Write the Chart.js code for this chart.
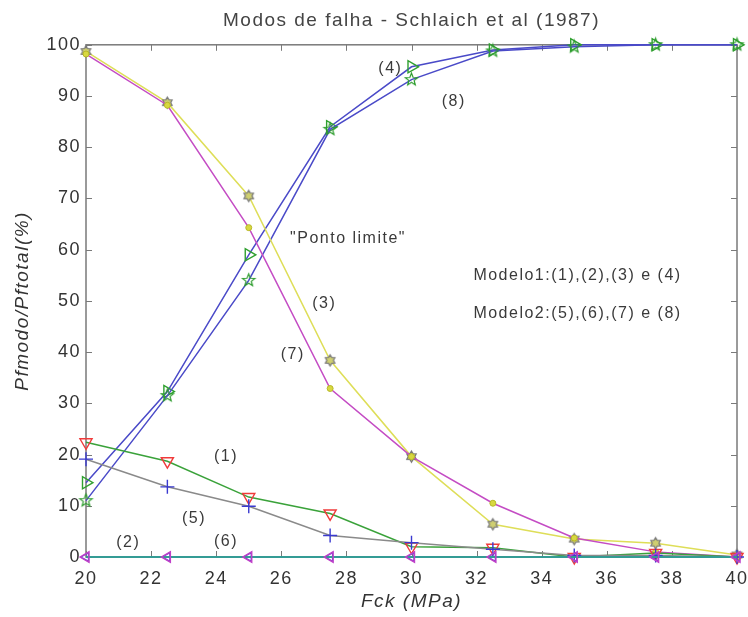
<!DOCTYPE html>
<html>
<head>
<meta charset="utf-8">
<script src="https://cdn.jsdelivr.net/npm/chart.js@4/dist/chart.umd.min.js"></script>
<style>
  html, body { margin: 0; padding: 0; background: #fff; }
  #wrap { width: 748px; height: 617px; }
</style>
</head>
<body>
<div id="wrap"><canvas id="chartModos"></canvas></div>
<script>
// dados
const fck = [20, 22.5, 25, 27.5, 30, 32.5, 35, 37.5, 40];
const modo1 = [22.4, 18.7, 11.7, 8.5, 2.0, 1.8, 0, 0.8, 0];
const modo2 = [0, 0, 0, 0, 0, 0, 0, 0, 0];
const modo3 = [98.7, 88.7, 70.5, 38.4, 19.6, 6.4, 3.5, 2.7, 0.4];
const modo4 = [14.5, 32.3, 59.0, 84.0, 95.7, 99.0, 100, 100, 100];
const modo5 = [19.1, 13.7, 9.9, 4.2, 2.8, 1.5, 0.3, 0.3, 0];
const modo6 = [0, 0, 0, 0, 0, 0, 0, 0, 0];
const modo7 = [98.2, 88.2, 64.3, 32.9, 19.6, 10.5, 3.7, 1.0, 0];
const modo8 = [11.0, 31.5, 54.0, 83.5, 93.2, 98.8, 99.6, 100, 100];

const xTicks = [20, 22, 24, 26, 28, 30, 32, 34, 36, 38, 40];
const yTicks = [0, 10, 20, 30, 40, 50, 60, 70, 80, 90, 100];

const rotulos = [
  { t: '(4)', x: 29.35, y: 95.4 },
  { t: '(8)', x: 31.3, y: 89.0 },
  { t: '"Ponto limite"', x: 28.05, y: 62.2 },
  { t: '(3)', x: 27.32, y: 49.5 },
  { t: '(7)', x: 26.35, y: 39.5 },
  { t: 'Modelo1:(1),(2),(3) e (4)', x: 35.1, y: 55.0 },
  { t: 'Modelo2:(5),(6),(7) e (8)', x: 35.1, y: 47.6 },
  { t: '(1)', x: 24.3, y: 19.6 },
  { t: '(5)', x: 23.32, y: 7.5 },
  { t: '(2)', x: 21.3, y: 2.8 },
  { t: '(6)', x: 24.3, y: 3.0 }
];

const pts = ys => fck.map((x, i) => ({ x: x, y: ys[i] }));
const fonte = '"Liberation Sans", Arial, sans-serif';

// marcadores tipo matlab (hexagrama e pentagrama)
function estrela(n, r, ri, stroke, fill) {
  const c = document.createElement('canvas');
  const s = Math.ceil(r * 2 + 4);
  c.width = s; c.height = s;
  const g = c.getContext('2d');
  g.translate(s / 2, s / 2);
  g.beginPath();
  for (let i = 0; i < n * 2; i++) {
    const a = -Math.PI / 2 + i * Math.PI / n;
    const rr = i % 2 === 0 ? r : ri;
    g.lineTo(Math.cos(a) * rr, Math.sin(a) * rr);
  }
  g.closePath();
  if (fill) { g.fillStyle = fill; g.fill(); }
  g.strokeStyle = stroke;
  g.lineWidth = 1.2;
  g.stroke();
  return c;
}
const hexagrama = estrela(6, 5.5, 3.3, '#777', '#cfcf70');
const pentagrama = estrela(5, 6.5, 2.8, '#2c9c2c', null);

const moldura = {
  id: 'moldura',
  beforeDraw(chart) {
    // texto do matlab sai mais largo
    chart.ctx.letterSpacing = '1.5px';
  },
  beforeDatasetsDraw(chart) {
    const { ctx, chartArea: a, scales } = chart;
    ctx.save();
    ctx.strokeStyle = '#7a7a7a';
    ctx.lineWidth = 1.5;
    ctx.strokeRect(a.left, a.top, a.right - a.left, a.bottom - a.top);
    ctx.lineWidth = 1;
    ctx.beginPath();
    xTicks.forEach(v => {
      const px = Math.round(scales.x.getPixelForValue(v)) + 0.5;
      ctx.moveTo(px, a.bottom); ctx.lineTo(px, a.bottom - 6);
      ctx.moveTo(px, a.top); ctx.lineTo(px, a.top + 6);
    });
    yTicks.forEach(v => {
      const py = Math.round(scales.y.getPixelForValue(v)) + 0.5;
      ctx.moveTo(a.left, py); ctx.lineTo(a.left + 6, py);
      ctx.moveTo(a.right, py); ctx.lineTo(a.right - 6, py);
    });
    ctx.stroke();
    ctx.restore();
  },
  afterDatasetsDraw(chart) {
    const { ctx, scales } = chart;
    ctx.save();
    ctx.font = '16px ' + fonte;
    ctx.letterSpacing = '1.5px';
    ctx.fillStyle = '#3a3a3a';
    ctx.textAlign = 'center';
    ctx.textBaseline = 'middle';
    rotulos.forEach(r => {
      ctx.fillText(r.t, scales.x.getPixelForValue(r.x), scales.y.getPixelForValue(r.y));
    });
    ctx.restore();
  }
};

const serie = (label, ys, cor, extra) => Object.assign({
  label: label,
  data: pts(ys),
  borderColor: cor,
  borderWidth: 1.5,
  backgroundColor: 'rgba(0,0,0,0)',
  pointBorderWidth: 1.4,
  tension: 0,
  clip: false
}, extra);

new Chart(document.getElementById('chartModos'), {
  type: 'line',
  data: {
    datasets: [
      serie('(2)', modo2, '#2e9c94', { pointStyle: 'triangle', pointRotation: -90, pointRadius: 6, pointBorderColor: '#c040c8' }),
      serie('(6)', modo6, '#2e9c94', { pointStyle: 'triangle', pointRotation: -90, pointRadius: 5, pointBorderColor: '#7040d0' }),
      serie('(5)', modo5, '#8a8a8a', { pointStyle: 'cross', pointRadius: 7, pointBorderColor: '#3a3ad0' }),
      serie('(1)', modo1, '#3aa23a', { pointStyle: 'triangle', pointRotation: 180, pointRadius: 7, pointBorderColor: '#f03a3a' }),
      serie('(7)', modo7, '#c44cc4', { pointStyle: 'circle', pointRadius: 3, pointBorderColor: '#b8b828', pointBackgroundColor: '#d8d840', pointBorderWidth: 1 }),
      serie('(3)', modo3, '#dede58', { pointStyle: hexagrama }),
      serie('(8)', modo8, '#4a4ac8', { pointStyle: pentagrama }),
      serie('(4)', modo4, '#4a4ac8', { pointStyle: 'triangle', pointRotation: 90, pointRadius: 7, pointBorderColor: '#30a030' })
    ]
  },
  options: {
    responsive: true,
    maintainAspectRatio: false,
    animation: false,
    layout: { padding: { top: 9, right: 11, left: 0, bottom: 0 } },
    plugins: {
      legend: { display: false },
      tooltip: { enabled: false },
      title: {
        display: true,
        fullSize: false,
        text: 'Modos de falha - Schlaich et al (1987)',
        color: '#444',
        font: { family: fonte, size: 19, weight: 'normal' },
        padding: { top: 0, bottom: 13 }
      }
    },
    scales: {
      x: {
        type: 'linear',
        min: 20,
        max: 40,
        grid: { display: false, drawTicks: false },
        border: { display: false },
        afterFit: s => { s.height = 60; s.paddingLeft = 0; s.paddingRight = 0; },
        afterBuildTicks: s => { s.ticks = xTicks.map(v => ({ value: v })); },
        ticks: {
          color: '#333',
          padding: 11,
          font: { family: fonte, size: 18 }
        },
        title: {
          display: true,
          text: 'Fck (MPa)',
          color: '#333',
          padding: { top: 0 },
          font: { family: fonte, size: 19, style: 'italic' }
        }
      },
      y: {
        min: 0,
        max: 100,
        grid: { display: false, drawTicks: false },
        border: { display: false },
        afterFit: s => { s.width = 86; s.paddingTop = 0; s.paddingBottom = 0; },
        afterBuildTicks: s => { s.ticks = yTicks.map(v => ({ value: v })); },
        ticks: {
          color: '#333',
          padding: 5,
          font: { family: fonte, size: 18 }
        },
        title: {
          display: true,
          text: 'Pfmodo/Pftotal(%)',
          color: '#333',
          padding: { bottom: 0, top: 11 },
          font: { family: fonte, size: 19, style: 'italic' }
        }
      }
    }
  },
  plugins: [moldura]
});
</script>
</body>
</html>
